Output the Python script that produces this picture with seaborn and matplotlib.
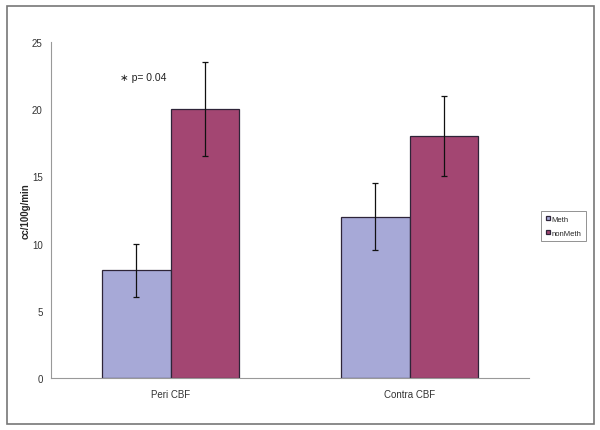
import matplotlib
matplotlib.use("Agg")
import matplotlib.pyplot as plt
from matplotlib.patches import Rectangle
import seaborn as sns
import pandas as pd

# data
sites = ["Peri CBF", "Contra CBF"]
groups = ["Meth", "nonMeth"]
meth_vals = [8, 12]
nonmeth_vals = [20, 18]
meth_err = [2, 2.5]
nonmeth_err = [3.5, 3]
y_ticks = [0, 5, 10, 15, 20, 25]

df = pd.DataFrame({
    "Site": sites * 2,
    "Group": [groups[0]] * 2 + [groups[1]] * 2,
    "Value": meth_vals + nonmeth_vals,
    "Err": meth_err + nonmeth_err,
})

sns.set_style("white")
plt.rcParams["font.family"] = ["Liberation Sans", "DejaVu Sans"]

fig = plt.figure(figsize=(6, 4.31), dpi=100)
ax = fig.add_axes([0.085, 0.121, 0.797, 0.779])

colors = {"Meth": "#A7A9D7", "nonMeth": "#A34672"}
sns.barplot(data=df, x="Site", y="Value", hue="Group", order=sites, hue_order=groups,
            palette=colors, width=0.573, errorbar=None, saturation=1,
            edgecolor="#2E2438", linewidth=0.9, ax=ax)

# error bars centred on the drawn bars
for cont, grp in zip(ax.containers, groups):
    sub = df[df["Group"] == grp].set_index("Site").loc[sites]
    xs = [b.get_x() + b.get_width() / 2 for b in cont]
    ax.errorbar(xs, sub["Value"], yerr=sub["Err"], fmt="none", ecolor="#111111",
                elinewidth=0.9, capsize=2, capthick=0.9)

ax.set_ylim(0, 25)
ax.set_yticks(y_ticks)
ax.set_xlim(-0.5, 1.5)
ax.tick_params(axis="y", length=3, color="#888888", labelsize=7, labelcolor="#333333", pad=3)
ax.tick_params(axis="x", length=0, labelsize=7, labelcolor="#333333", pad=8)
for s in ["top", "right"]:
    ax.spines[s].set_visible(False)
for s in ["left", "bottom"]:
    ax.spines[s].set_color("#999999")
    ax.spines[s].set_linewidth(0.8)
ax.set_xlabel("")
ax.set_ylabel("cc/100g/min", fontsize=7, fontweight="bold", labelpad=1)

ax.text(-0.21, 22.4, "\u2217 p= 0.04", fontsize=7.5, color="#222222", va="center")

leg = ax.legend(title=None, loc="center left", bbox_to_anchor=(1.025, 0.452),
                fontsize=5.5, frameon=True, fancybox=False, handlelength=0.55,
                handleheight=0.55, handletextpad=0.15, borderpad=0.6, labelspacing=0.9,
                borderaxespad=0)
leg.get_frame().set_edgecolor("#777777")
leg.get_frame().set_linewidth(0.7)

# outer frame around the whole chart
fig.patches.append(Rectangle((0.012, 0.014), 0.978, 0.97, transform=fig.transFigure,
                             fill=False, edgecolor="#777777", linewidth=1.2))

fig.savefig("out.png", dpi=100)
